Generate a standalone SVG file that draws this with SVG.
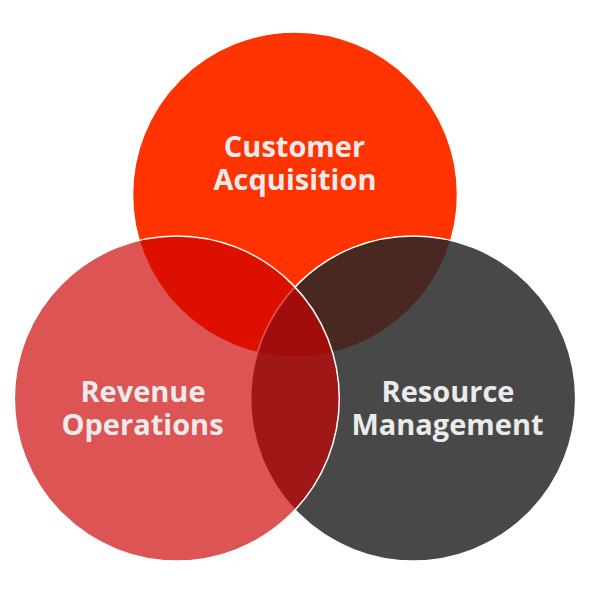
<svg xmlns="http://www.w3.org/2000/svg" width="604" height="593" viewBox="0 0 604 593">
  <style>
    .c { stroke: #ffffff; stroke-width: 1.5; }
    .t { font-family: "Open Sans", "Noto Sans", "Liberation Sans", sans-serif; font-weight: 700; font-size: 29px; fill: #ebebeb; text-anchor: middle; }
  </style>
  <rect width="604" height="593" fill="#ffffff"/>
  <g id="customer-acquisition">
    <circle class="c" cx="295" cy="194.5" r="162.5" fill="#ff3300"/>
  </g>
  <g id="resource-management">
    <circle class="c" cx="413.2" cy="398.5" r="162.5" fill="#262626" fill-opacity="0.843"/>
  </g>
  <g id="revenue-operations">
    <circle class="c" cx="176.8" cy="398.5" r="162.5" fill="#cc0000" fill-opacity="0.67"/>
  </g>
  <g id="labels">
    <text class="t" x="294.5" y="157"><tspan x="294.5">Customer</tspan><tspan x="295" dy="33">Acquisition</tspan></text>
    <text class="t" x="143" y="402"><tspan x="143">Revenue</tspan><tspan x="142.5" dy="33">Operations</tspan></text>
    <text class="t" x="448" y="402"><tspan x="448">Resource</tspan><tspan x="447.5" dy="33">Management</tspan></text>
  </g>
  <g id="connectors"/>
</svg>
